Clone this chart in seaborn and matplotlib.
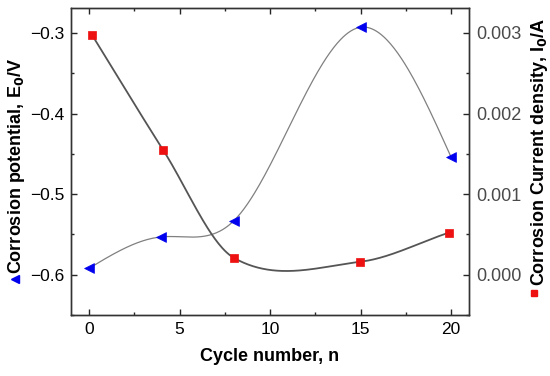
import numpy as np
import pandas as pd
import seaborn as sns
import matplotlib.pyplot as plt
from matplotlib.ticker import MultipleLocator

# Data
cycles_e = [0, 4, 8, 15, 20]
potential = [-0.592, -0.553, -0.533, -0.293, -0.454]

cycles_i = [0.15, 4.1, 8.0, 14.95, 19.9]
current = [0.00298, 0.001545, 0.00021, 0.00016, 0.000524]


def natural_spline(x, y, n=300):
    # smooth connecting line, natural end conditions
    x = np.asarray(x, float)
    y = np.asarray(y, float)
    k = len(x)
    h = np.diff(x)
    A = np.zeros((k, k))
    b = np.zeros(k)
    A[0, 0] = A[-1, -1] = 1
    for i in range(1, k - 1):
        A[i, i - 1] = h[i - 1]
        A[i, i] = 2 * (h[i - 1] + h[i])
        A[i, i + 1] = h[i]
        b[i] = 6 * ((y[i + 1] - y[i]) / h[i] - (y[i] - y[i - 1]) / h[i - 1])
    M = np.linalg.solve(A, b)
    xs = np.linspace(x[0], x[-1], n)
    idx = np.clip(np.searchsorted(x, xs) - 1, 0, k - 2)
    x0, x1 = x[idx], x[idx + 1]
    hh = x1 - x0
    t0, t1 = x1 - xs, xs - x0
    ys = (M[idx] * t0 ** 3 + M[idx + 1] * t1 ** 3) / (6 * hh) \
        + (y[idx] / hh - M[idx] * hh / 6) * t0 \
        + (y[idx + 1] / hh - M[idx + 1] * hh / 6) * t1
    return xs, ys


def hermite_spline(x, y, n=300):
    # Catmull-Rom style curve (less overshoot than the natural spline)
    x = np.asarray(x, float)
    y = np.asarray(y, float)
    m = np.gradient(y, x, edge_order=1)
    m[1:-1] = (y[2:] - y[:-2]) / (x[2:] - x[:-2])
    xs = np.linspace(x[0], x[-1], n)
    idx = np.clip(np.searchsorted(x, xs) - 1, 0, len(x) - 2)
    h = x[idx + 1] - x[idx]
    t = (xs - x[idx]) / h
    h00 = 2 * t ** 3 - 3 * t ** 2 + 1
    h10 = t ** 3 - 2 * t ** 2 + t
    h01 = -2 * t ** 3 + 3 * t ** 2
    h11 = t ** 3 - t ** 2
    ys = h00 * y[idx] + h10 * h * m[idx] + h01 * y[idx + 1] + h11 * h * m[idx + 1]
    return xs, ys


df_e = pd.DataFrame({'Cycle': cycles_e, 'E0': potential})
df_i = pd.DataFrame({'Cycle': cycles_i, 'I0': current})

sns.set_style("ticks")
plt.rcParams['font.family'] = ['Liberation Sans', 'DejaVu Sans']
plt.rcParams['axes.linewidth'] = 1.0

fig = plt.figure(figsize=(5.5, 3.76), dpi=100)
ax = fig.add_axes([0.129, 0.162, 0.724, 0.817])
ax2 = ax.twinx()

# smooth lines
xs, ys = natural_spline(cycles_e, potential)
ax.plot(xs, ys, color='#808080', lw=0.9, zorder=2)
xs, ys = hermite_spline(cycles_i, current)
ax2.plot(xs, ys, color='#555555', lw=1.3, zorder=2)

# markers
sns.scatterplot(x='Cycle', y='E0', data=df_e, ax=ax, marker='<', color='#0000ee',
                s=50, edgecolor='#0000ee', linewidth=0.5, zorder=3, legend=False)
sns.scatterplot(x='Cycle', y='I0', data=df_i, ax=ax2, marker='s', color='#ee1111',
                s=30, edgecolor='#ee1111', linewidth=0.5, zorder=3, legend=False)

ax.set_xlim(-1, 21)
ax.set_ylim(-0.65, -0.269)
ax2.set_ylim(-0.0005, 0.00331)

ax.xaxis.set_major_locator(MultipleLocator(5))
ax.xaxis.set_minor_locator(MultipleLocator(2.5))
ax.yaxis.set_major_locator(MultipleLocator(0.1))
ax.yaxis.set_minor_locator(MultipleLocator(0.05))
ax2.yaxis.set_major_locator(MultipleLocator(0.001))
ax2.yaxis.set_minor_locator(MultipleLocator(0.0005))

ax.set_yticks([-0.3, -0.4, -0.5, -0.6])
ax.set_yticklabels(['\u22120.3', '\u22120.4', '\u22120.5', '\u22120.6'])
ax2.set_yticks([0.0, 0.001, 0.002, 0.003])
ax2.set_yticklabels(['0.000', '0.001', '0.002', '0.003'])

ax.tick_params(axis='both', which='major', direction='in', length=4, width=1,
               labelsize=12.5, labelcolor='black', top=True, pad=5)
ax.tick_params(axis='both', which='minor', direction='in', length=2.5, width=1, top=True)
ax2.tick_params(axis='y', which='major', direction='in', length=4, width=1,
                labelsize=13, labelcolor='#4a4a4a', pad=5)
ax2.tick_params(axis='y', which='minor', direction='in', length=2.5, width=1)

for a in (ax, ax2):
    for s in a.spines.values():
        s.set_visible(True)
        s.set_color('#333333')

ax.set_xlabel('Cycle number, n', fontsize=13, fontweight='bold', labelpad=8, color='black')

# axis titles with their legend symbols
ax.set_ylabel('Corrosion potential, E$_\\mathbf{0}$/V', fontsize=13, fontweight='bold',
              color='black')
ax.yaxis.set_label_coords(-0.11, 0.485)
ax2.set_ylabel('Corrosion Current density, I$_\\mathbf{0}$/A', fontsize=13,
               fontweight='bold', color='black')
ax2.yaxis.set_label_coords(1.151, 0.531)
fig.lines.append(plt.Line2D([15 / 550], [1 - 279 / 376], marker='<', color='#0000ee',
                            markersize=5.5, linestyle='none', transform=fig.transFigure))
fig.lines.append(plt.Line2D([534 / 550], [1 - 293 / 376], marker='s', color='#ee1111',
                            markersize=4.5, linestyle='none', transform=fig.transFigure))

plt.savefig('out.png', dpi=100)
